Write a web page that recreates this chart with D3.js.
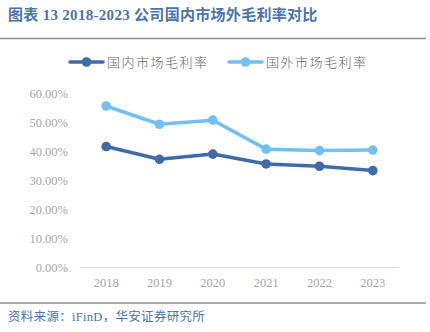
<!DOCTYPE html>
<html><head><meta charset="utf-8">
<script src="https://cdn.jsdelivr.net/npm/d3@7"></script>
<style>body{margin:0;background:#fff}svg{display:block}</style>
</head><body><svg id="c" width="430" height="332"></svg>
<script>
const years = ["2018","2019","2020","2021","2022","2023"];
const domestic = [41.8, 37.4, 39.2, 35.8, 35.0, 33.5];
const foreign = [55.8, 49.5, 50.9, 40.9, 40.4, 40.6];
const yTicks = [0,10,20,30,40,50,60];
const seriesNames = ["国内市场毛利率","国外市场毛利率"];
const colors = ["#416ba8","#72bff2"];

const svg = d3.select("#c");
const serif = "'Liberation Serif','DejaVu Serif',serif";
const mixed = "'Liberation Serif','Noto Sans CJK SC',serif";
const cjk = "'Noto Sans CJK SC',sans-serif";

svg.append("text").attr("x",8).attr("y",20)
  .attr("fill","#4a74aa").style("font-size","15px").style("font-family",mixed).style("font-weight","600")
  .attr("letter-spacing",0.3)
  .text("图表 13 2018-2023 公司国内市场外毛利率对比");
svg.append("line").attr("x1",0).attr("x2",426).attr("y1",38.5).attr("y2",38.5).attr("stroke","#8c8c8c").attr("stroke-width",1.5);
svg.append("line").attr("x1",0).attr("x2",426).attr("y1",303).attr("y2",303).attr("stroke","#8c8c8c").attr("stroke-width",1.5);
svg.append("text").attr("x",8).attr("y",321)
  .attr("fill","#4a74aa").style("font-size","12.5px").style("font-family",mixed)
  .attr("letter-spacing",0.3)
  .text("资料来源：iFinD，华安证券研究所");

const x = d3.scaleBand().domain(years).range([79.5,399.5]);
const y = d3.scaleLinear().domain([0,60]).range([267.7,93.8]);

svg.append("line").attr("x1",79.5).attr("x2",399.5).attr("y1",y(0)).attr("y2",y(0)).attr("stroke","#d9d9d9").attr("stroke-width",1);

const yAxis = d3.axisLeft(y).tickValues(yTicks).tickFormat(d=>d.toFixed(2)+"%").tickSize(0).tickPadding(0);
const ya = svg.append("g").attr("transform","translate(68,0)").call(yAxis);
ya.select(".domain").remove();
ya.selectAll("text").attr("fill","#a6a6a6").style("font-size","12.5px").style("font-family",serif);

const xAxis = d3.axisBottom(x).tickSize(0).tickPadding(0);
const xa = svg.append("g").attr("transform","translate(0,"+(y(0)+10)+")").call(xAxis);
xa.select(".domain").remove();
xa.selectAll("text").attr("fill","#a6a6a6").style("font-size","12.5px").style("font-family",serif);

const line = d3.line().x((d,i)=>x(years[i])+x.bandwidth()/2).y(d=>y(d));
[domestic, foreign].forEach((s,k)=>{
  svg.append("path").datum(s).attr("d",line).attr("fill","none").attr("stroke",colors[k]).attr("stroke-width",3.5).attr("stroke-linejoin","round");
  svg.selectAll(null).data(s).enter().append("circle")
    .attr("cx",(d,i)=>x(years[i])+x.bandwidth()/2).attr("cy",d=>y(d)).attr("r",4.8).attr("fill",colors[k]);
});

const legX = [70, 229];
seriesNames.forEach((n,k)=>{
  const g = svg.append("g").attr("transform","translate("+legX[k]+",62)");
  g.append("line").attr("x1",0).attr("x2",33).attr("stroke",colors[k]).attr("stroke-width",3.5).attr("stroke-linecap","round");
  g.append("circle").attr("cx",16.5).attr("r",4.8).attr("fill",colors[k]);
  g.append("text").attr("x",37).attr("y",5).attr("fill","#666").style("font-size","13px").style("font-family",cjk).style("font-weight","300").attr("letter-spacing",1.5).text(n);
});
</script></body></html>
